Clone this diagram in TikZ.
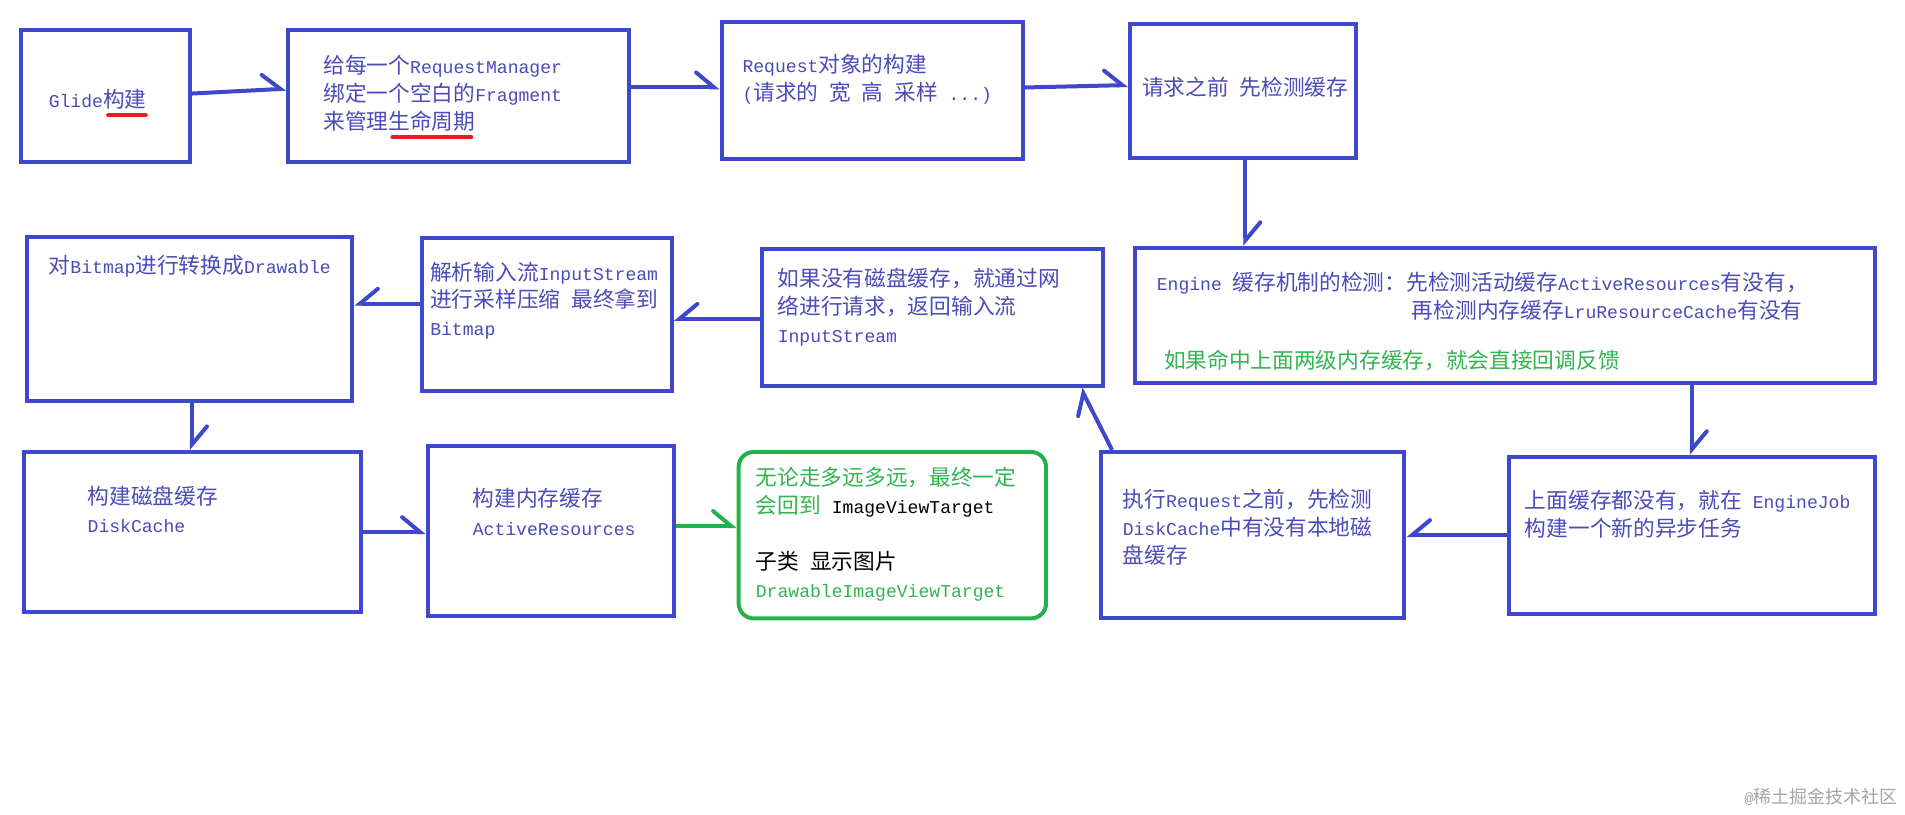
\documentclass[tikz,border=0pt]{standalone}
\usepackage{fontspec}
\setmainfont{Liberation Mono}[Scale=0.833]
\newfontfamily\cjkf{Noto Sans CJK SC}
\usetikzlibrary{arrows.meta,calc,fit}
\XeTeXinterchartokenstate=1
\newXeTeXintercharclass\cjkcls
\makeatletter
\def\setcjkrange#1#2{\count@=#1\relax\loop\XeTeXcharclass\count@=\cjkcls\relax\ifnum\count@<#2\relax\advance\count@\@ne\repeat}
\makeatother
\setcjkrange{"3000}{"303F}
\setcjkrange{"4E00}{"9FFF}
\setcjkrange{"FF00}{"FFEF}
\XeTeXinterchartoks 0 \cjkcls = {\begingroup\cjkf}
\XeTeXinterchartoks 4095 \cjkcls = {\begingroup\cjkf}
\XeTeXinterchartoks \cjkcls 0 = {\endgroup}
\XeTeXinterchartoks \cjkcls 4095 = {\endgroup}
\definecolor{boxblue}{RGB}{63,72,204}
\definecolor{txtblue}{RGB}{75,75,185}
\definecolor{pgreen}{RGB}{34,177,76}
\definecolor{tgreen}{RGB}{50,180,80}
\definecolor{pred}{RGB}{237,28,36}
\definecolor{wmgray}{RGB}{165,165,165}
\begin{document}
\begin{tikzpicture}[x=1.215pt,y=-1.215pt,
  box/.style={draw=boxblue,line width=4pt,inner sep=0pt},
  gbox/.style={draw=pgreen,line width=4pt,inner sep=0pt,rounded corners=15pt},
  txt/.style={anchor=base west,inner sep=0pt,text=txtblue,font=\fontsize{21.7pt}{27.9pt}\selectfont},
  arrL/.style={draw=boxblue,line width=4pt,-{Straight Barb[harpoon,length=18pt,width=30pt,line cap=round]}},
  arrR/.style={draw=boxblue,line width=4pt,-{Straight Barb[harpoon,swap,length=18pt,width=30pt,line cap=round]}},
  garr/.style={draw=pgreen,line width=4pt,-{Straight Barb[harpoon,length=18pt,width=30pt,line cap=round]}},
  uline/.style={draw=pred,line width=4pt,line cap=round}]
\useasboundingbox[fill=white] (0,0) rectangle (1568,670);
% boxes
\node[box,fit={(17,25) (156,133)}] (b1) {};
\node[box,fit={(237,25) (518,133)}] (b2) {};
\node[box,fit={(594,18) (842,131)}] (b3) {};
\node[box,fit={(930,20) (1116,130)}] (b4) {};
\node[box,fit={(934,204) (1543,315)}] (b5) {};
\node[box,fit={(1242,376) (1543,505)}] (b6) {};
\node[box,fit={(906,372) (1156,509)}] (b7) {};
\node[box,fit={(627,205) (908,318)}] (b8) {};
\node[box,fit={(347,196) (553,322)}] (b9) {};
\node[box,fit={(22,195) (290,330)}] (b10) {};
\node[box,fit={(20,372) (297,504)}] (b11) {};
\node[box,fit={(352,367) (555,507)}] (b12) {};
\node[gbox,fit={(608,372) (861,509)}] (b13) {};
% texts
\node[txt] (t1) at (40,88.5) {Glide构建};
\node[txt] (t2a) at (266,60.5) {给每一个RequestManager};
\node[txt] (t2b) at (266,83.5) {绑定一个空白的Fragment};
\node[txt] (t2c) at (266,106.5) {来管理生命周期};
\node[txt] (t3a) at (611,59.5) {Request对象的构建};
\node[txt] (t3b) at (611,82.5) {(请求的 宽 高 采样 ...)};
\node[txt] (t4) at (940,78.5) {请求之前 先检测缓存};
\node[txt] (t5a) at (952,239.5) {Engine 缓存机制的检测：先检测活动缓存ActiveResources有没有，};
\node[txt] (t5b) at (1162,262.5) {再检测内存缓存LruResourceCache有没有};
\node[txt,text=tgreen] (t5c) at (958,303.5) {如果命中上面两级内存缓存，就会直接回调反馈};
\node[txt] (t6a) at (1255,418.5) {上面缓存都没有，就在 EngineJob};
\node[txt] (t6b) at (1255,441.5) {构建一个新的异步任务};
\node[txt] (t7a) at (924,417.5) {执行Request之前，先检测};
\node[txt] (t7b) at (924,440.5) {DiskCache中有没有本地磁};
\node[txt] (t7c) at (924,463.5) {盘缓存};
\node[txt] (t8a) at (640,235.5) {如果没有磁盘缓存，就通过网};
\node[txt] (t8b) at (640,258.5) {络进行请求，返回输入流};
\node[txt] (t8c) at (640,281.5) {InputStream};
\node[txt] (t9a) at (354,230.5) {解析输入流InputStream};
\node[txt] (t9b) at (354,253.5) {进行采样压缩 最终拿到};
\node[txt] (t9c) at (354,276.5) {Bitmap};
\node[txt] (t10) at (40,225.5) {对Bitmap进行转换成Drawable};
\node[txt] (t11a) at (72,415.5) {构建磁盘缓存};
\node[txt] (t11b) at (72,438.5) {DiskCache};
\node[txt] (t12a) at (389,416.5) {构建内存缓存};
\node[txt] (t12b) at (389,440.5) {ActiveResources};
\node[txt,text=tgreen] (t13a) at (622,399.5) {无论走多远多远，最终一定};
\node[txt,text=tgreen] (t13b) at (622,422.5) {会回到 {\color{black}ImageViewTarget}};
\node[txt,text=black] (t13c) at (622,468.5) {子类 显示图片};
\node[txt,text=tgreen] (t13d) at (622,491.5) {DrawableImageViewTarget};
\node[anchor=east,inner sep=0pt,text=wmgray,font=\fontsize{18pt}{20pt}\selectfont] (wm) at (1562,656) {@稀土掘金技术社区};
% red underlines
\draw[uline] (89,95) -- (120,95);
\draw[uline] (323,113) -- (388,113);
% connectors
\draw[arrL] ($(b1.east)+(0,-2)$) -- ($(b2.west)+(0,-6)$);
\draw[arrL] ($(b2.east)+(0,-7)$) -- ($(b3.west)+(0,-2.5)$);
\draw[arrL] ($(b3.east)+(0,-2.5)$) -- ($(b4.west)+(0,-5)$);
\draw[arrL] ($(b4.south)+(2,0)$) -- ($(b4.south |- b5.north)+(2,0)$);
\draw[arrL] (b6.north |- b5.south) -- (b6.north);
\draw[arrR] (b6.west) -- (b7.east |- b6.west);
\draw[arrL] ($(b7.north west)+(11,0)$) -- ($(b8.south east)+(-20,0)$);
\draw[arrR] ($(b8.west)+(0,1)$) -- ($(b9.east |- b8.west)+(0,1)$);
\draw[arrR] ($(b9.west)+(0,-9)$) -- ($(b10.east |- b9.west)+(0,-9)$);
\draw[arrL] ($(b10.south)+(2,0)$) -- ($(b10.south |- b11.north)+(2,0)$);
\draw[arrL] (b11.east) -- (b12.west |- b11.east);
\draw[garr] ($(b12.east)+(0,-4)$) -- ($(b13.west |- b12.east)+(0,-4)$);
\end{tikzpicture}
\end{document}
